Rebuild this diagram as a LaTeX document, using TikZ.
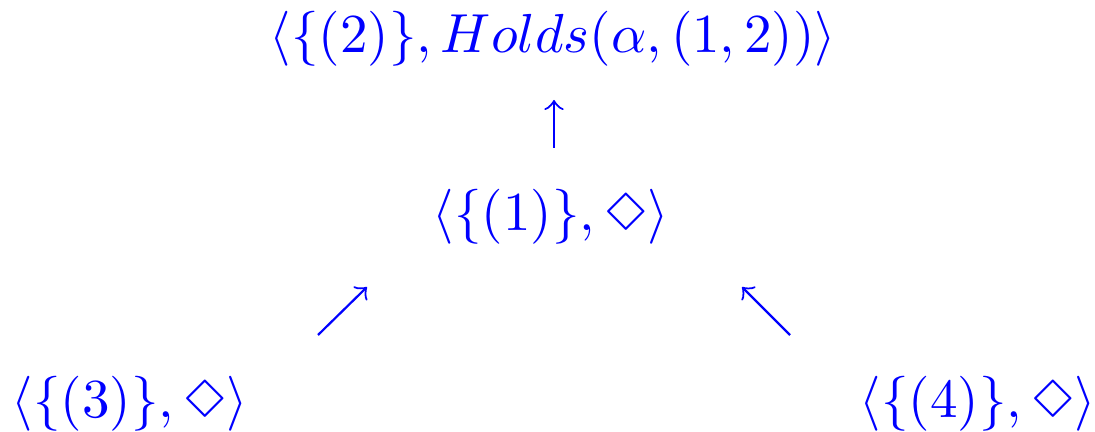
\documentclass[tikz,border=0pt]{standalone}
\usepackage{latexsym}
\begin{document}
\begin{tikzpicture}[x=0.1818pt,y=-0.1818pt,color=blue,
  term/.style={anchor=base,inner sep=0pt},
  step arrow/.style={->,line width=0.4pt}]

% Cadre
\useasboundingbox (0,0) rectangle (1095,432);

% Termes
\node[term] (top) at (553,53) {$\langle\{(2)\},Holds(\alpha,(1,2))\rangle$};
\node[term] (mid) at (551,231) {$\langle\{(1)\},\Diamond\rangle$};
\node[term] (left) at (130,417) {$\langle\{(3)\},\Diamond\rangle$};
\node[term] (right) at (978,417) {$\langle\{(4)\},\Diamond\rangle$};

% Fleches
\coordinate (up-a) at (554,148);
\coordinate (up-b) at (554,100);
\coordinate (ne-a) at (318,335);
\coordinate (ne-b) at (367,287);
\coordinate (nw-a) at (790,335);
\coordinate (nw-b) at (742,287);
\draw[step arrow] (up-a) -- (up-b);
\draw[step arrow] (ne-a) -- (ne-b);
\draw[step arrow] (nw-a) -- (nw-b);

\end{tikzpicture}
\end{document}
